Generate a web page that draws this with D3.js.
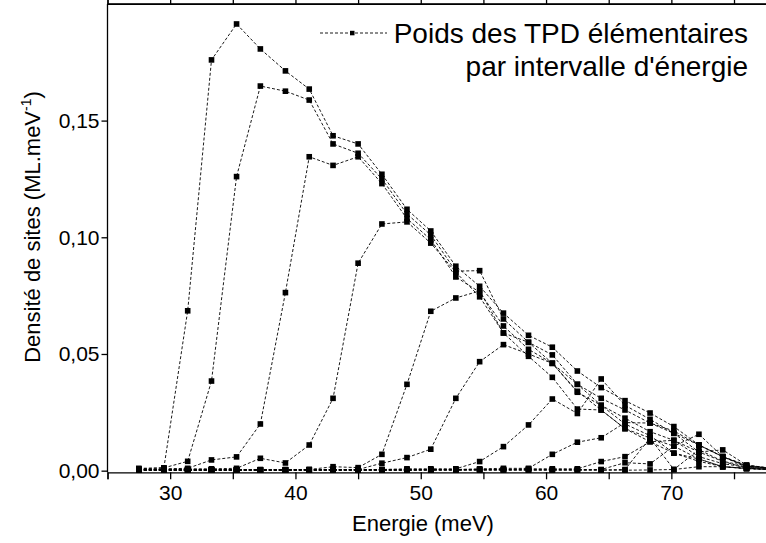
<!DOCTYPE html>
<html><head><meta charset="utf-8">
<script src="https://cdn.jsdelivr.net/npm/d3@7"></script>
<style>body{margin:0;background:#fff} svg{display:block} text{font-family:"Liberation Sans",Arial,sans-serif;fill:#000}</style>
</head><body><svg id="c" width="766" height="543"></svg>
<script>
// ---- data ----
const energies = [27.5,29.5,31.4,33.3,35.3,37.2,39.2,41.1,43.0,45.0,46.9,48.9,50.8,52.8,54.7,56.6,58.6,60.5,62.5,64.4,66.3,68.3,70.2,72.2,74.1,76.0,78.0];
const seriesA = [0.0010,0.0012,0.0685,0.1760,0.1914,0.1807,0.1713,0.1635,0.1435,0.1400,0.1270,0.1120,0.1027,0.0876,0.0790,0.0675,0.0580,0.0529,0.0427,0.0356,0.0300,0.0247,0.0189,0.0110,0.0060,0.0024,0.0010];
const seriesB = [0.0008,0.0012,0.0040,0.0384,0.1260,0.1648,0.1626,0.1588,0.1400,0.1360,0.1250,0.1100,0.1010,0.0855,0.0857,0.0650,0.0550,0.0496,0.0370,0.0310,0.0260,0.0204,0.0160,0.0080,0.0040,0.0020,0.0010];
const seriesC = [0.0005,0.0008,0.0010,0.0046,0.0059,0.0200,0.0763,0.1345,0.1308,0.1345,0.1230,0.1080,0.0990,0.0830,0.0765,0.0620,0.0520,0.0460,0.0336,0.0280,0.0225,0.0167,0.0130,0.0060,0.0030,0.0015,0.0008];
const seriesD = [0.0005,0.0005,0.0008,0.0008,0.0010,0.0053,0.0033,0.0110,0.0310,0.0889,0.1057,0.1066,0.0975,0.0850,0.0745,0.0590,0.0490,0.0400,0.0264,0.0260,0.0180,0.0140,0.0105,0.0050,0.0017,0.0010,0.0005];
const seriesE = [0.0005,0.0005,0.0005,0.0005,0.0005,0.0005,0.0005,0.0005,0.0017,0.0013,0.0070,0.0370,0.0683,0.0740,0.0770,0.0590,0.0550,0.0460,0.0370,0.0280,0.0200,0.0150,0.0075,0.0050,0.0017,0.0010,0.0005];
const seriesF = [0.0003,0.0003,0.0003,0.0003,0.0003,0.0003,0.0003,0.0005,0.0005,0.0005,0.0032,0.0056,0.0092,0.0310,0.0467,0.0540,0.0500,0.0460,0.0340,0.0260,0.0180,0.0124,0.0075,0.0040,0.0017,0.0010,0.0005];
const seriesG = [0.0003,0.0003,0.0003,0.0003,0.0003,0.0003,0.0003,0.0003,0.0005,0.0005,0.0005,0.0008,0.0008,0.0008,0.0039,0.0103,0.0196,0.0307,0.0245,0.0393,0.0280,0.0220,0.0160,0.0110,0.0060,0.0020,0.0010];
const seriesH = [0.0003,0.0003,0.0003,0.0003,0.0003,0.0003,0.0003,0.0003,0.0003,0.0003,0.0005,0.0005,0.0005,0.0005,0.0008,0.0010,0.0010,0.0070,0.0122,0.0141,0.0206,0.0204,0.0170,0.0110,0.0060,0.0020,0.0010];
const seriesI = [0.0003,0.0003,0.0003,0.0003,0.0003,0.0003,0.0003,0.0003,0.0003,0.0003,0.0003,0.0003,0.0005,0.0005,0.0005,0.0005,0.0008,0.0008,0.0008,0.0039,0.0060,0.0124,0.0130,0.0080,0.0089,0.0024,0.0010];
const seriesJ = [0.0003,0.0003,0.0003,0.0003,0.0003,0.0003,0.0003,0.0003,0.0003,0.0003,0.0003,0.0003,0.0003,0.0003,0.0005,0.0005,0.0005,0.0005,0.0005,0.0005,0.0034,0.0029,0.0105,0.0156,0.0060,0.0015,0.0008];
const seriesK = [0.0002,0.0002,0.0002,0.0002,0.0002,0.0002,0.0002,0.0002,0.0002,0.0002,0.0002,0.0002,0.0003,0.0003,0.0003,0.0003,0.0003,0.0003,0.0003,0.0003,0.0005,0.0140,0.0005,0.0090,0.0040,0.0010,0.0005];
const seriesL = [0.0002,0.0002,0.0002,0.0002,0.0002,0.0002,0.0002,0.0002,0.0002,0.0002,0.0002,0.0002,0.0002,0.0002,0.0002,0.0002,0.0002,0.0002,0.0002,0.0002,0.0002,0.0003,0.0005,0.0017,0.0017,0.0008,0.0005];
const seriesList = [seriesA,seriesB,seriesC,seriesD,seriesE,seriesF,seriesG,seriesH,seriesI,seriesJ,seriesK,seriesL];

const xTickValues = [25,30,35,40,45,50,55,60,65,70,75];
const xLabelValues = [30,40,50,60,70];
const yTickValues = [0,0.05,0.10,0.15];
const legendLines = ["Poids des TPD élémentaires","par intervalle d'énergie"];
const xTitle = "Energie (meV)";
const yTitleMain = "Densité de sites (ML.meV";
const yTitleSup = "-1";

// ---- drawing ----
const svg = d3.select("#c");
const x = d3.scaleLinear().domain([25,78]).range([107.5,771.6]);
const y = d3.scaleLinear().domain([-0.0007,0.2]).range([472.3,3.9]);

const frame = svg.append("g").attr("stroke","#000").attr("stroke-width",1.3).attr("fill","none");
frame.append("line").attr("x1",x(25)).attr("x2",x(78)).attr("y1",y(0.2)).attr("y2",y(0.2));

const xAxis = svg.append("g").attr("transform",`translate(0,${y(-0.0007)})`)
  .call(d3.axisBottom(x).tickValues(xTickValues).tickSizeOuter(0).tickSize(7)
    .tickFormat(d => xLabelValues.includes(d) ? d : ""));
const xTop = svg.append("g").attr("transform",`translate(0,${y(0.2)})`)
  .call(d3.axisTop(x).tickValues(xTickValues).tickSizeOuter(0).tickSize(4).tickFormat(""));
const yAxis = svg.append("g").attr("transform",`translate(${x(25)},0)`)
  .call(d3.axisLeft(y).tickValues(yTickValues).tickSizeOuter(0).tickSize(6)
    .tickFormat(d => d3.format(".2f")(d).replace(".",",")));
yAxis.select(".domain").attr("d",`M0,${y(-0.0007)}V${y(0.2)}`);

[xAxis,xTop,yAxis].forEach(g=>{
  g.selectAll("path,line").attr("stroke","#000").attr("stroke-width",1.3);
});
xAxis.selectAll("text").attr("font-size",21).attr("dy","1.0em").attr("y",7);
yAxis.selectAll("text").attr("font-size",21).attr("x",-8);

svg.append("text").attr("x",423).attr("y",531).attr("text-anchor","middle")
  .attr("font-size",22).text(xTitle);
const yt = svg.append("text").attr("transform","translate(40,227) rotate(-90)")
  .attr("text-anchor","middle").attr("font-size",22);
yt.append("tspan").text(yTitleMain);
yt.append("tspan").attr("font-size",14).attr("dy",-9).text(yTitleSup);
yt.append("tspan").attr("dy",9).text(")");

const line = d3.line().x((d,i)=>x(energies[i])).y(d=>y(d));
const plot = svg.append("g");
seriesList.forEach(s=>{
  plot.append("path").datum(s).attr("d",line).attr("fill","none")
    .attr("stroke","#000").attr("stroke-width",0.9).attr("stroke-dasharray","3,2");
});
seriesList.forEach(s=>{
  plot.append("g").selectAll("rect").data(s).join("rect")
    .attr("x",(d,i)=>x(energies[i])-2.8).attr("y",d=>y(d)-2.8)
    .attr("width",5.6).attr("height",5.6).attr("fill","#000");
});

const lg = svg.append("g");
lg.append("line").attr("x1",320).attr("x2",387).attr("y1",33).attr("y2",33)
  .attr("stroke","#000").attr("stroke-width",0.9).attr("stroke-dasharray","3,2");
lg.append("rect").attr("x",350).attr("y",30.8).attr("width",4.5).attr("height",4.5).attr("fill","#000");
lg.selectAll("text.l").data(legendLines).join("text").attr("class","l")
  .attr("x",748).attr("y",(d,i)=>43+i*33).attr("text-anchor","end")
  .attr("font-size",28).text(d=>d);
</script></body></html>
